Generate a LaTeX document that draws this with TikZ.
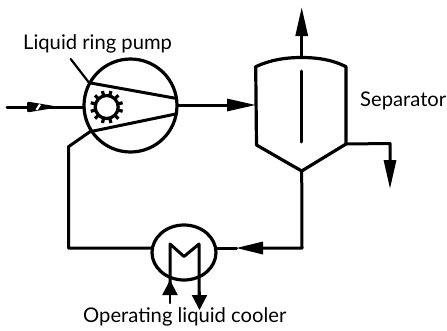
\documentclass[tikz,border=0pt]{standalone}
\usepackage{fontspec}
\setmainfont{Lato}
\usetikzlibrary{arrows.meta,shapes.geometric}
\tikzset{
  x=1pt,y=-1pt,
  pipe/.style={line width=3pt,line cap=round,line join=round,black},
  thin pipe/.style={line width=2.2pt,line cap=round,line join=round,black},
  flow/.style={pipe,-{Triangle[length=29pt,width=12pt]}},
  small flow/.style={thin pipe,-{Triangle[length=15pt,width=15pt]}},
  equip/.style={draw,line width=3.2pt,black,inner sep=0pt,outer sep=0pt},
  lab/.style={font=\fontsize{20.2pt}{23pt}\selectfont,inner sep=0pt,anchor=base west,text=black},
}
\begin{document}
\begin{tikzpicture}
\useasboundingbox (0,0) rectangle (447,330);
% pump
\node[equip,circle,minimum size=93pt] (pump) at (130.5,105.5) {};
\node[equip,circle,minimum size=23pt] (gear) at (106.7,107) {};
\foreach \a in {15,45,...,345}
  \draw[line width=3.2pt,black] (gear.center) ++(\a:11.5) -- ++(\a:5);
\coordinate (ptop1) at (89,82.7);
\coordinate (ptop2) at (175.7,98.3);
\coordinate (pbot1) at (90,131.7);
\coordinate (pbot2) at (175.7,114);
\draw[pipe] (ptop1) -- (ptop2);
\draw[pipe] (pbot1) -- (pbot2);
% separator
\coordinate (stl) at (255.7,66.7);
\coordinate (str) at (346,66.7);
\coordinate (sbr) at (346,144);
\coordinate (sbl) at (256.5,145);
\coordinate (sapex) at (301.7,171);
\coordinate (stop) at (301.7,57.5);
\draw[pipe,line width=3.2pt] (stl) .. controls (270,60) and (285,57.5) .. (stop) .. controls (318,57.5) and (333,60) .. (str) -- (sbr) -- (sapex) -- (sbl) -- cycle;
\coordinate (baf1) at (301.7,71);
\coordinate (baf2) at (301.7,142);
\draw[pipe] (baf1) -- (baf2);
% cooler
\node[equip,ellipse,minimum width=64pt,minimum height=55pt] (cooler) at (184,252.5) {};
\coordinate (coil1) at (170,285);
\coordinate (coil2) at (170,244);
\coordinate (coil3) at (184,256.5);
\coordinate (coil4) at (199,244);
\draw[pipe] (coil1) -- (coil2) -- (coil3) -- (coil4) -- (199,296);
% connectors
\coordinate (in0) at (7,107);
\coordinate (in3) at (57,107);
\coordinate (pumpin) at (84,107);
\draw[pipe] (in0) -- (in3) -- (pumpin);
\fill[black,rounded corners=2pt] (27,101.5) -- (60,107) -- (27,112.5) -- cycle;
\draw[white,line width=2.2pt] (36.5,110) -- (40,104.5);
\coordinate (outp) at (178,105);
\coordinate (sepin) at (256,105);
\draw[flow] (outp) -- (sepin);
\coordinate (topout) at (301.7,7);
\draw[flow] (stop) -- (topout);
\coordinate (bend) at (390,143.5);
\coordinate (botout) at (390,189);
\draw[flow] (sbr) -- (bend) -- (botout);
% recycle
\coordinate (c1) at (302,248);
\coordinate (c2) at (236.5,248);
\draw[pipe] (sapex) -- (c1) -- (263,248);
\fill[black] (263,241.5) -- (263,254.5) -- (236.5,248) -- cycle;
\draw[pipe] (c2) -- (cooler.east |- c2);
\coordinate (r1) at (68.5,248);
\coordinate (r2) at (68.5,146.7);
\draw[pipe] (cooler.west |- r1) -- (r1) -- (r2) -- (pbot1);
% cooler arrows
\coordinate (ca1) at (170,303);
\coordinate (ca2) at (170,280);
\draw[small flow] (ca1) -- (ca2);
\coordinate (cb1) at (199.5,292);
\coordinate (cb2) at (199.5,310);
\draw[small flow] (cb1) -- (cb2);
% labels
\coordinate (lead) at (70.7,59);
\draw[thin pipe] (lead) -- (ptop1);
\node[lab] (l1) at (23,49) {Liquid ring pump};
\node[lab] (l2) at (360,106) {Separator};
\node[lab] (l3) at (83,322) {Operating liquid cooler};
\end{tikzpicture}
\end{document}
